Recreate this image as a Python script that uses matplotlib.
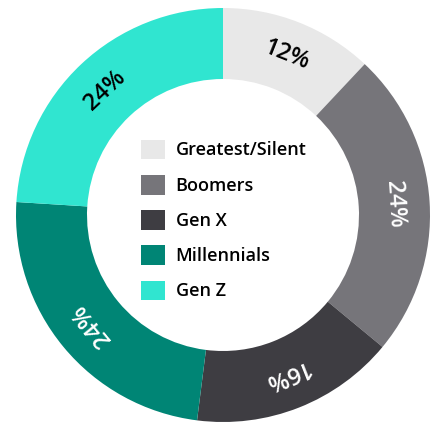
import matplotlib.pyplot as plt
from matplotlib.patches import Patch
import numpy as np

plt.rcParams['font.family'] = ['Open Sans', 'DejaVu Sans']

generations = ['Greatest/Silent', 'Boomers', 'Gen X', 'Millennials', 'Gen Z']
shares = [12, 24, 16, 24, 24]
colors = ['#E8E8E8', '#76757A', '#3E3D42', '#008575', '#30E5D0']
label_colors = ['black', 'white', 'white', 'white', 'black']

fig = plt.figure(figsize=(4.38, 4.22), dpi=100)
ax = fig.add_axes([0, 0, 1, 1])

cx, cy = 223, 207
r_out, r_in = 207, 136

ax.pie(shares, colors=colors, startangle=90, counterclock=False,
       center=(cx, cy), radius=r_out, frame=True,
       wedgeprops=dict(width=r_out - r_in, linewidth=0))
ax.set_xlim(0, 438)
ax.set_ylim(0, 422)
ax.set_aspect('equal')
ax.axis('off')

# rotated percentage labels in the ring
total = sum(shares)
cum = 0
r_lab = (r_out + r_in) / 2
for val, col in zip(shares, label_colors):
    mid = cum + val / 2
    ang = 90 - 360 * mid / total
    x = cx + r_lab * np.cos(np.radians(ang))
    y = cy + r_lab * np.sin(np.radians(ang))
    ax.text(x, y, f'{val}%', rotation=ang - 90, rotation_mode='anchor',
            ha='center', va='center', fontsize=17, fontweight='semibold',
            color=col)
    cum += val

handles = [Patch(facecolor=c, edgecolor='none') for c in colors]
leg = ax.legend(handles, generations, loc='center', bbox_to_anchor=(224, 202),
                bbox_transform=ax.transData, frameon=False, fontsize=13,
                handlelength=1.3, handleheight=1.3, labelspacing=0.85,
                handletextpad=0.6)
for t in leg.get_texts():
    t.set_fontweight('semibold')

fig.savefig('out.png', dpi=100)
